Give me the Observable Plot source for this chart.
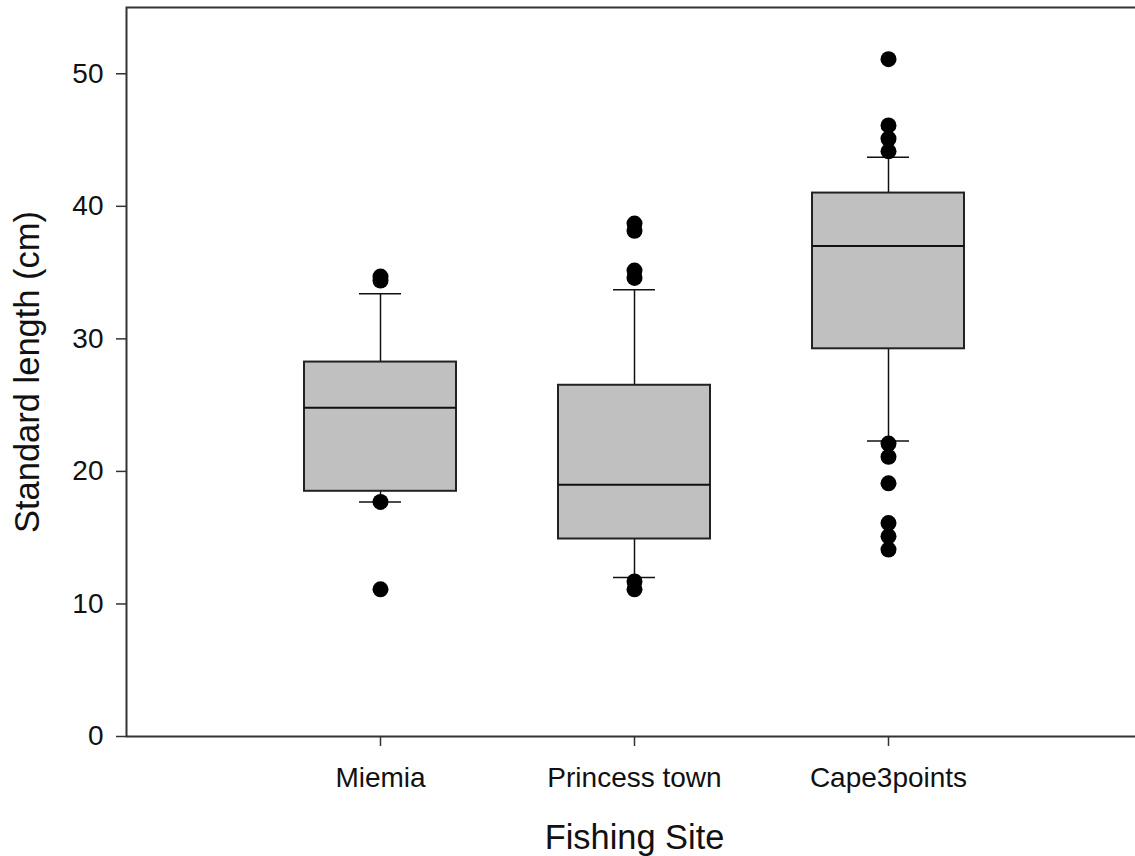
<!DOCTYPE html>
<html>
<head>
<meta charset="utf-8">
<script src="https://cdn.jsdelivr.net/npm/d3@7"></script>
<script src="https://cdn.jsdelivr.net/npm/@observablehq/plot@0.6"></script>
<style>
  html, body { margin: 0; padding: 0; background: #fff; }
  #chart svg { display: block; }
</style>
</head>
<body>
<div id="chart"></div>
<script>
// Fishing sites
const sites = ["Miemia", "Princess town", "Cape3points"];
// Box statistics (cm)
const q1 = [18.5, 14.9, 29.25];
const median = [24.8, 19.0, 37.0];
const q3 = [28.25, 26.5, 41.0];
const whiskerLow = [17.7, 12.0, 22.3];
const whiskerHigh = [33.4, 33.7, 43.7];
// Outliers (cm)
const outlierSite = [
  "Miemia", "Miemia", "Miemia", "Miemia",
  "Princess town", "Princess town", "Princess town", "Princess town", "Princess town", "Princess town",
  "Cape3points", "Cape3points", "Cape3points", "Cape3points",
  "Cape3points", "Cape3points", "Cape3points", "Cape3points", "Cape3points", "Cape3points"
];
const outlierValue = [
  34.7, 34.4, 17.7, 11.1,
  38.7, 38.15, 35.15, 34.6, 11.7, 11.1,
  51.1, 46.1, 45.1, 44.15,
  22.1, 21.1, 19.1, 16.1, 15.1, 14.1
];
// Axis ticks
const yTicks = [0, 10, 20, 30, 40, 50];

const boxes = sites.map((s, i) => ({site: s, q1: q1[i], median: median[i], q3: q3[i], lo: whiskerLow[i], hi: whiskerHigh[i]}));
const outliers = outlierSite.map((s, i) => ({site: s, value: outlierValue[i]}));

const font = "'Liberation Sans', Arial, Helvetica, sans-serif";

const chart = Plot.plot({
  width: 1135,
  height: 856,
  marginLeft: 126,
  marginRight: -7,
  marginTop: 7,
  marginBottom: 120,
  style: {fontFamily: font, color: "#111", background: "#fff"},
  x: {domain: sites, type: "band", paddingInner: 0.4, paddingOuter: 0.7, label: null},
  y: {domain: [0, 55], label: null},
  marks: [
    Plot.axisY({ticks: yTicks, tickSize: 10, tickPadding: 13, fontSize: 28, stroke: "#333", strokeWidth: 1.5, label: null}),
    Plot.axisX({tickSize: 10, tickPadding: 21, fontSize: 28, stroke: "#333", strokeWidth: 1.5, label: null}),
    Plot.frame({stroke: "#333", strokeWidth: 2}),
    Plot.ruleX(boxes, {x: "site", y1: "q3", y2: "hi", stroke: "#111", strokeWidth: 1.5}),
    Plot.ruleX(boxes, {x: "site", y1: "lo", y2: "q1", stroke: "#111", strokeWidth: 1.5}),
    Plot.barY(boxes, {x: "site", y1: "q1", y2: "q3", fill: "#c0c0c0", stroke: "#222", strokeWidth: 2}),
    Plot.tickY(boxes, {x: "site", y: "median", stroke: "#111", strokeWidth: 2}),
    Plot.tickY(boxes, {x: "site", y: "hi", stroke: "#111", strokeWidth: 1.5, inset: 55}),
    Plot.tickY(boxes, {x: "site", y: "lo", stroke: "#111", strokeWidth: 1.5, inset: 55}),
    Plot.dot(outliers, {x: "site", y: "value", r: 8, fill: "#000", stroke: null}),
    Plot.text(["Standard length (cm)"], {frameAnchor: "left", textAnchor: "middle", rotate: -90, dx: -99, fontSize: 34.5, fill: "#111", lineAnchor: "middle"}),
    Plot.text(["Fishing Site"], {frameAnchor: "bottom", textAnchor: "middle", dy: 101, fontSize: 34.4, fill: "#111", lineAnchor: "middle"})
  ]
});
document.getElementById("chart").appendChild(chart);
</script>
</body>
</html>
